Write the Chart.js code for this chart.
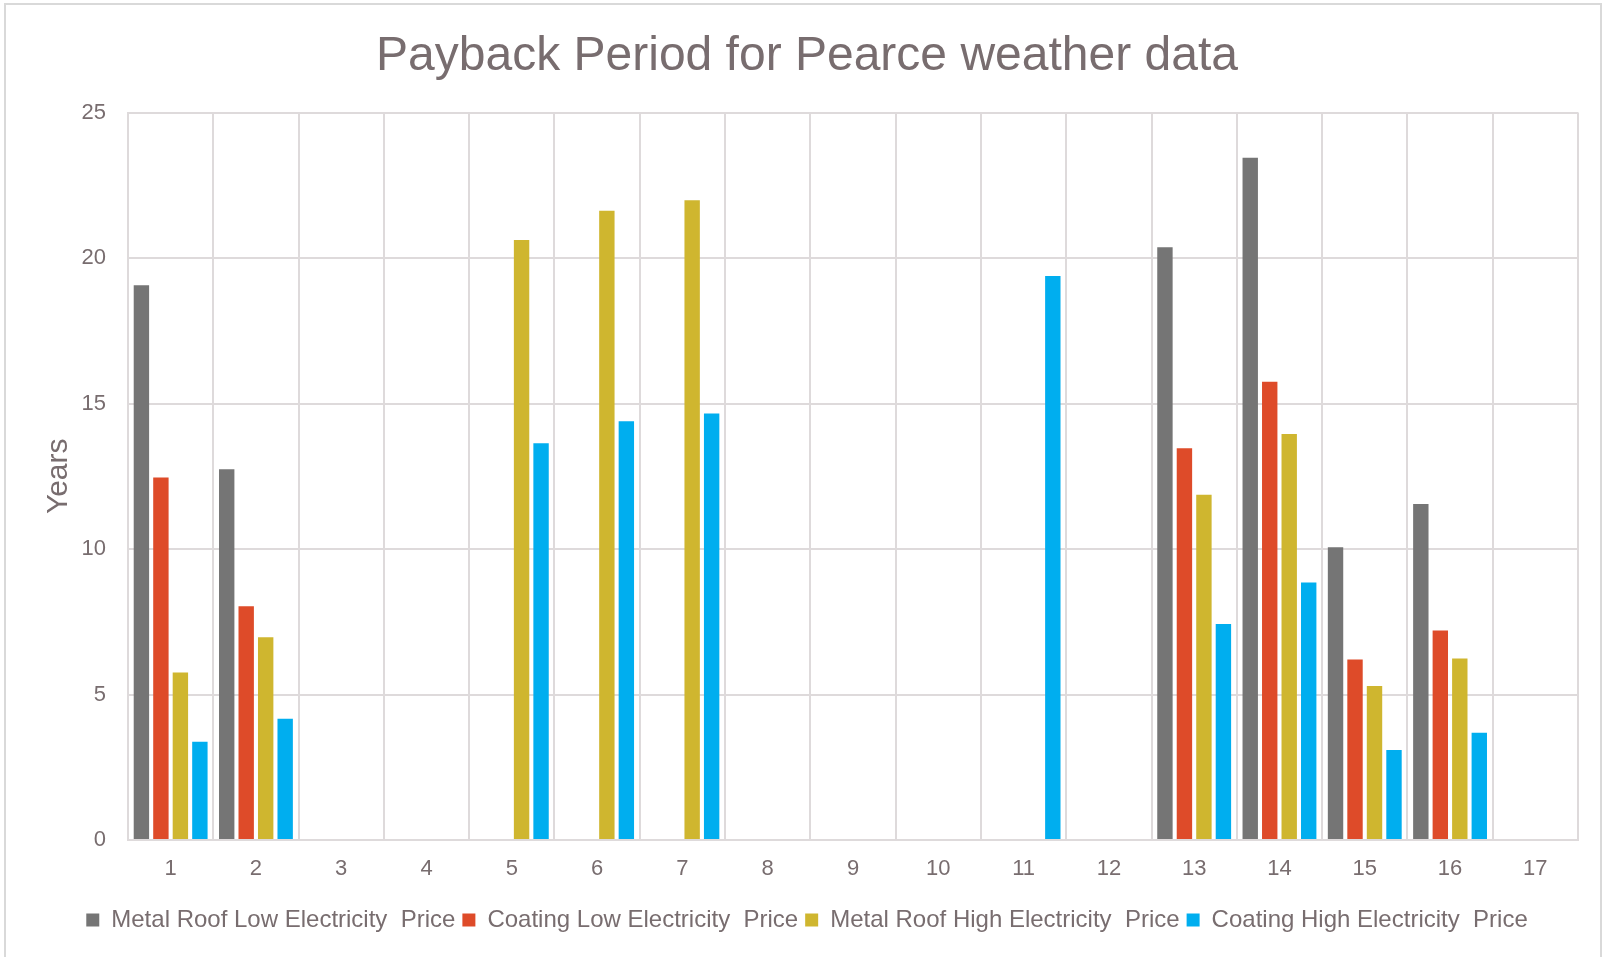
<!DOCTYPE html>
<html>
<head>
<meta charset="utf-8">
<title>Payback Period for Pearce weather data</title>
<script src="https://cdn.jsdelivr.net/npm/chart.js@4/dist/chart.umd.min.js"></script>
<style>
  html, body { margin: 0; padding: 0; background: #ffffff; }
  #wrap { width: 1607px; height: 957px; position: relative; }
</style>
</head>
<body>
<div id="wrap"><canvas id="chart" width="1607" height="957"></canvas></div>
<script>
// Cases 1..17
const categories = ['1','2','3','4','5','6','7','8','9','10','11','12','13','14','15','16','17'];

// Payback period in years (null = no payback within the horizon)
const metalRoofLow   = [19.07, 12.74, null, null, null,  null,  null,  null, null, null, null,  null, 20.37, 23.45, 10.06, 11.55, null];
const coatingLow     = [12.46,  8.03, null, null, null,  null,  null,  null, null, null, null,  null, 13.46, 15.75,  6.20,  7.20, null];
const metalRoofHigh  = [ 5.76,  6.97, null, null, 20.62, 21.63, 21.99, null, null, null, null,  null, 11.87, 13.95,  5.29,  6.24, null];
const coatingHigh    = [ 3.38,  4.17, null, null, 13.64, 14.39, 14.66, null, null, null, 19.38, null,  7.42,  8.85,  3.09,  3.69, null];

const seriesNames = [
  'Metal Roof Low Electricity  Price',
  'Coating Low Electricity  Price',
  'Metal Roof High Electricity  Price',
  'Coating High Electricity  Price'
];

const TEXT = '#786d6f';
const GRID = '#dedadb';
const FONT = "'Liberation Sans', Arial, sans-serif";

// White chart background with a thin frame
const framePlugin = {
  id: 'frame',
  beforeDraw(chart) {
    const ctx = chart.ctx;
    ctx.save();
    ctx.fillStyle = '#ffffff';
    ctx.fillRect(0, 0, chart.width, chart.height);
    ctx.strokeStyle = '#d9d9d9';
    ctx.lineWidth = 2;
    ctx.strokeRect(5, 4, chart.width - 11, chart.height + 10);
    ctx.restore();
  }
};

new Chart(document.getElementById('chart'), {
  type: 'bar',
  data: {
    labels: categories,
    datasets: [
      { label: seriesNames[0], data: metalRoofLow,  backgroundColor: '#757575' },
      { label: seriesNames[1], data: coatingLow,    backgroundColor: '#de4b29' },
      { label: seriesNames[2], data: metalRoofHigh, backgroundColor: '#cfb62f' },
      { label: seriesNames[3], data: coatingHigh,   backgroundColor: '#00aeef' }
    ]
  },
  options: {
    responsive: false,
    animation: false,
    devicePixelRatio: 1,
    layout: { padding: { left: 36, right: 29, top: 0, bottom: 15 } },
    datasets: { bar: { categoryPercentage: 0.914, barPercentage: 0.79 } },
    plugins: {
      title: {
        display: true,
        text: 'Payback Period for Pearce weather data',
        color: TEXT,
        font: { family: FONT, size: 48, weight: 'normal' },
        padding: { top: 28, bottom: 27 }
      },
      legend: {
        position: 'bottom',
        labels: {
          color: TEXT,
          font: { family: FONT, size: 24 },
          boxWidth: 13,
          boxHeight: 13,
          padding: 7
        }
      },
      tooltip: { enabled: false }
    },
    scales: {
      x: {
        grid: { color: GRID, lineWidth: 2, drawTicks: false, offset: true },
        border: { color: GRID, width: 2 },
        ticks: { color: TEXT, font: { family: FONT, size: 22 }, padding: 16, maxRotation: 0 },
        afterFit(scale) { scale.height = 61; }
      },
      y: {
        min: 0,
        max: 25,
        ticks: { stepSize: 5, color: TEXT, font: { family: FONT, size: 22 }, padding: 22 },
        grid: { color: GRID, lineWidth: 2, drawTicks: false },
        border: { color: GRID, width: 2 },
        title: {
          display: true,
          text: 'Years',
          color: TEXT,
          font: { family: FONT, size: 30 },
          padding: { top: 5, bottom: 0 }
        },
        afterFit(scale) { scale.width = 92; }
      }
    }
  },
  plugins: [framePlugin]
});
</script>
</body>
</html>
